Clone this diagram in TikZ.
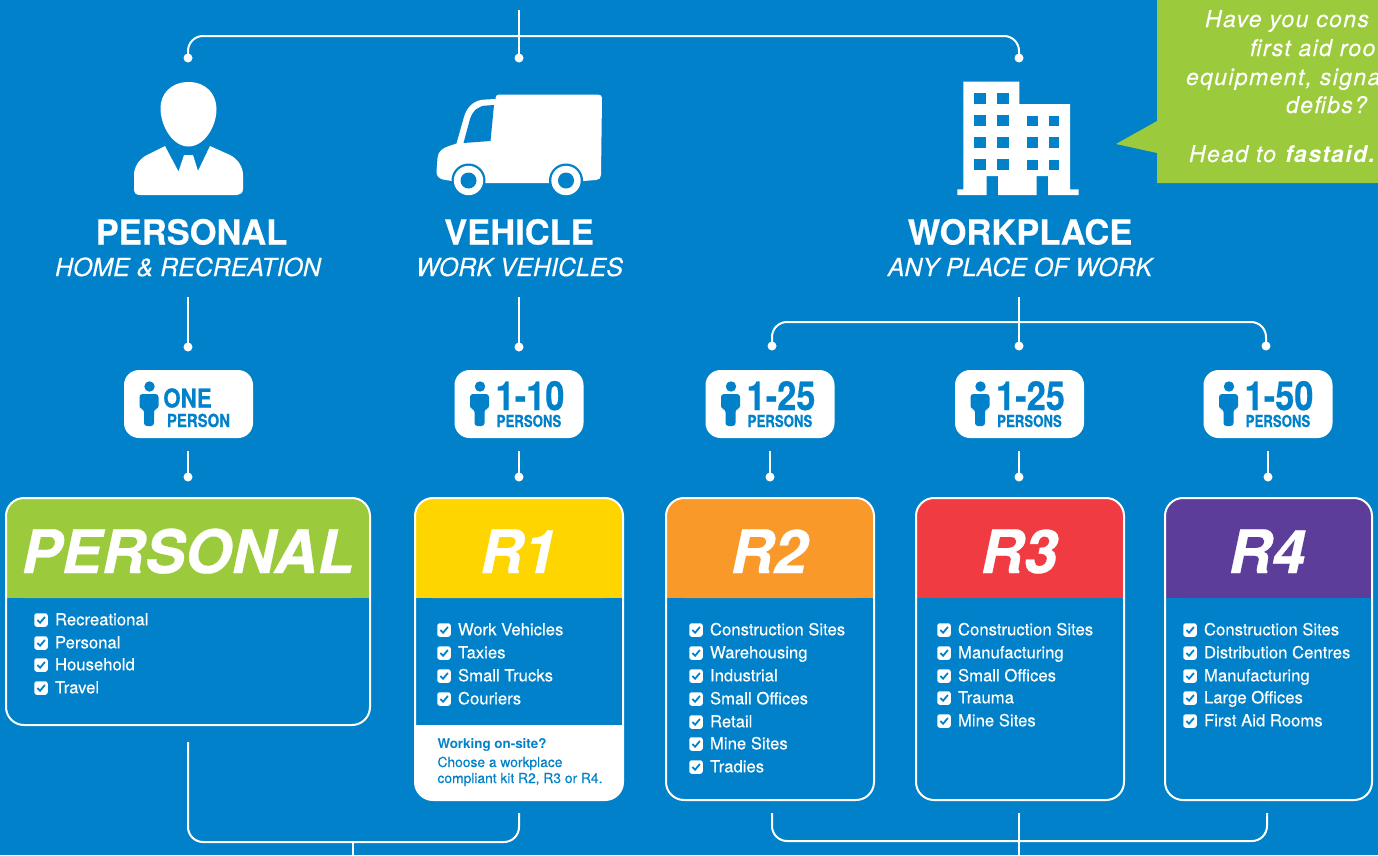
\documentclass[tikz,border=0pt]{standalone}
\usepackage{fontspec}
\usepackage{graphicx}
\setmainfont{TeX Gyre Heros}
\newfontfamily\med{TeX Gyre Heros}[FakeBold=0.25]
\newfontfamily\hvy{TeX Gyre Heros Bold}[FakeBold=0.5,ItalicFont=TeX Gyre Heros Bold Italic]
\newfontfamily\callf{TeX Gyre Heros}[LetterSpace=6,FakeBold=0.12]
\newfontfamily\callb{TeX Gyre Heros Bold}[LetterSpace=6,ItalicFont=TeX Gyre Heros Bold Italic]
\definecolor{bg}{HTML}{0081C9}
\definecolor{lime}{HTML}{9BCB3C}
\definecolor{yel}{HTML}{FFD500}
\definecolor{org}{HTML}{F9992A}
\definecolor{rd}{HTML}{F03B43}
\definecolor{pur}{HTML}{5C3D99}
\newcommand{\fs}[1]{\fontsize{#1}{#1}\selectfont}
\tikzset{
  wire/.style={draw=white,line width=2pt,rounded corners=15pt},
  dotend/.style={circle,fill=white,inner sep=0pt,minimum size=9pt},
  txt/.style={inner sep=0pt,outer sep=0pt,text=white},
  title/.style={txt,anchor=base,font=\hvy\fs{34.5}},
  subtitle/.style={txt,anchor=base,font=\med\itshape\fs{24.9}},
  cardtitle/.style={txt,anchor=base,font=\hvy\itshape\fs{60}},
  item/.style={txt,anchor=base west,font=\med\fs{16.7}},
  call/.style={txt,anchor=base west,font=\callf\itshape\fs{23}},
  foot/.style={txt,anchor=base west,text=bg,font=\med\fs{13.8}},
  badge/.style={rectangle,rounded corners=15pt,fill=white,minimum width=129pt,minimum height=68pt,inner sep=0pt},
  blab/.style={inner sep=0pt,outer sep=0pt,text=bg,anchor=base,font=\hvy},
  box/.style={rectangle,rounded corners=2.5pt,fill=white,minimum size=13.5pt,inner sep=0pt},
}
\newcommand{\chk}[4]{%
  \node[box] (#1b) at (#2,#3) {};
  \draw[bg,line width=1.8pt] ([shift={(-3.6pt,0pt)}]#1b.center) -- ([shift={(-0.9pt,-2.7pt)}]#1b.center) -- ([shift={(3.9pt,3pt)}]#1b.center);
  \node[item] (#1t) at ([shift={(14pt,-5.3pt)}]#1b.center) {#4};
}
% #1 name, #2 centre x, #3 big label, #4 big size, #5 big xscale, #6 small label, #7 small size, #8 small xscale, #9 big label x offset and baseline
\newcommand{\bdg}[9]{%
  \node[badge] (#1) at (#2,404) {};
  \begin{scope}[shift={(#1.center)}]
    \fill[bg] (-39,-17.5) circle (5.2pt);
    \fill[bg,rounded corners=3pt] (-49,-10) -- (-30,-10) -- (-30,5) -- (-34.5,5) -- (-34.5,22) -- (-44.5,22) -- (-44.5,5) -- (-49,5) -- cycle;
    \node[blab] (#1x) at (#9) {\fs{#4}\scalebox{#5}[1]{#3}};
    \node[blab] (#1y) at (10,23) {\fs{#7}\scalebox{#8}[1]{#6}};
  \end{scope}
}
\newcommand{\card}[4]{%
  \fill[#4,rounded corners=18pt] (#1,598) -- (#1,498) -- (#2,498) -- (#2,598) -- cycle;
  \fill[#4] (#1,580) rectangle (#2,598);
  \draw[white,line width=2pt,rounded corners=18pt] (#1,498) rectangle (#2,#3);
}
\begin{document}
\begin{tikzpicture}[x=1pt,y=-1pt]
\useasboundingbox (0,0) rectangle (1378,855);
\clip (0,0) rectangle (1378,855);
\fill[bg] (0,0) rectangle (1378,855);

% callout
\fill[lime] (1157,0) -- (1378,0) -- (1378,183) -- (1157,183) -- (1157,153) -- (1116,144) -- (1157,121) -- cycle;
\node[call] (c1) at (1205,27) {Have you cons};
\node[call] (c2) at (1250,56) {first aid roo};
\node[call] (c3) at (1186,85) {equipment, signa};
\node[call] (c4) at (1286,113) {defibs?};
\node[call] (c5) at (1189,162) {Head to\hspace{1.5pt} {\callb\itshape fastaid.}};

% top connectors
\coordinate (topin) at (519,10);
\node[dotend] (dP) at (188,58) {};
\node[dotend] (dV) at (519,58) {};
\node[dotend] (dW) at (1019,58) {};
\draw[wire] (dP.center) -- (188,36) -- (1019,36) -- (dW.center);
\draw[wire] (topin) -- (dV.center);

% person icon
\fill[white] (188.5,82) .. controls (171,82) and (160,94) .. (160.5,109) .. controls (161,127) and (173,146.5) .. (188.5,146.5) .. controls (204,146.5) and (216.5,127) .. (216.5,109) .. controls (216.5,94) and (206,82) .. (188.5,82) -- cycle;
\fill[white] (165,146) -- (178.5,171.5) -- (184,155) -- (193,155) -- (198,171) -- (210,146) -- (230,155) .. controls (238,159) and (243,167) .. (243,175) -- (243,189) .. controls (243,193) and (240,195) .. (237,195) -- (140,195) .. controls (136,195) and (134,193) .. (134,189) -- (134,175) .. controls (134,167) and (139,159) .. (147,155) -- cycle;

% van icon
\fill[white] (495.5,98) .. controls (496,95.5) and (497,94.5) .. (499,94.5) -- (598,94.5) .. controls (600.5,94.5) and (602,96) .. (602,98) -- (601,175) .. controls (601,178) and (599,180) .. (596,180) -- (583,181) -- (550,183) -- (485,183) -- (452,181) -- (443,179.5) .. controls (439,178.5) and (436.5,176) .. (436.5,172) -- (437.5,158) .. controls (438,151) and (443,148) .. (449,146) -- (456.5,143.5) -- (464,117) .. controls (467,106) and (475,99.5) .. (486,99.5) -- (495.5,99) -- cycle;
\fill[bg] (494,105) -- (490.5,141) -- (463.5,143) -- (470,119) .. controls (473,110) and (479,105.5) .. (487,105.5) -- cycle;
\foreach \wx in {468.5,566}{
  \fill[bg] (\wx,180.5) circle (17pt);
  \fill[white] (\wx,180.5) circle (14.7pt);
  \fill[bg] (\wx,180.5) circle (8pt);
}

% building icon
\fill[white] (963.3,81.7) -- (1019.3,81.7) -- (1019.3,104) -- (1070,104) -- (1070,189.3) -- (1078.7,189.3) -- (1078.7,195) -- (1048,195) -- (1048,176) -- (1036.7,176) -- (1036.7,195) -- (998,195) -- (998,176) -- (986.7,176) -- (986.7,195) -- (957.3,195) -- (957.3,189.3) -- (963.3,189.3) -- cycle;
\foreach \wy in {92.7,114.7,136.7,159}{
  \fill[bg] (974,\wy) rectangle +(11.7,11.3);
  \fill[bg] (997,\wy) rectangle +(11.7,11.3);
}
\foreach \wy in {115.7,137.3,160}{
  \fill[bg] (1027,\wy) rectangle +(10.7,10.4);
  \fill[bg] (1048.7,\wy) rectangle +(10.7,10.4);
}

% headings
\node[title] (t1) at (191.5,244.5) {PERSONAL};
\node[subtitle] (s1) at (188,276) {HOME \& RECREATION};
\node[title] (t2) at (519,244.5) {VEHICLE};
\node[subtitle] (s2) at (519.5,276) {WORK VEHICLES};
\node[title] (t3) at (1020,244.5) {WORKPLACE};
\node[subtitle] (s3) at (1020,276) {ANY PLACE OF WORK};

% second row connectors
\coordinate (p1) at (188,297);
\node[dotend] (p2) at (188,347) {};
\draw[wire] (p1) -- (p2.center);
\coordinate (v1) at (519,297);
\node[dotend] (v2) at (519,347) {};
\draw[wire] (v1) -- (v2.center);
\coordinate (w1) at (1019,297);
\node[dotend] (wa) at (772,346) {};
\node[dotend] (wb) at (1019,346) {};
\node[dotend] (wc) at (1266,346) {};
\draw[wire] (w1) -- (wb.center);
\draw[wire] (wa.center) -- (772,322) -- (1266,322) -- (wc.center);

% badges
\bdg{bA}{188.5}{ONE}{26}{.86}{PERSON}{18}{.83}{-1,3.5}
\bdg{bB}{519}{1-10}{40}{.86}{PERSONS}{16.5}{.8}{11,6}
\bdg{bC}{770}{1-25}{40}{.86}{PERSONS}{16.5}{.8}{11,6}
\bdg{bD}{1019.5}{1-25}{40}{.86}{PERSONS}{16.5}{.8}{11,6}
\bdg{bE}{1268}{1-50}{40}{.86}{PERSONS}{16.5}{.8}{11,6}

% badge to card connectors
\foreach \nm/\cx in {a/188,b/519,c/770,d/1019,e/1268}{
  \coordinate (u\nm) at (\cx,451);
  \node[dotend] (l\nm) at (\cx,477) {};
  \draw[wire] (u\nm) -- (l\nm.center);
}

% cards
\fill[white,rounded corners=18pt] (415,710) -- (623,710) -- (623,800) -- (415,800) -- cycle;
\fill[bg] (415,700) rectangle (623,725);
\card{6}{370}{725}{lime}
\card{415}{623}{800}{yel}
\card{666}{874}{800}{org}
\card{916}{1124}{800}{rd}
\card{1165}{1372}{800}{pur}
\node[cardtitle] (h1) at (188,573) {PERSONAL};
\node[cardtitle] (h2) at (518.5,573) {R1};
\node[cardtitle] (h3) at (769,573) {R2};
\node[cardtitle] (h4) at (1019,573) {R3};
\node[cardtitle] (h5) at (1267,573) {R4};

\chk{a1}{41}{620}{Recreational}
\chk{a2}{41}{643}{Personal}
\chk{a3}{41}{665}{Household}
\chk{a4}{41}{688}{Travel}

\chk{b1}{444}{630}{Work Vehicles}
\chk{b2}{444}{653}{Taxies}
\chk{b3}{444}{676}{Small Trucks}
\chk{b4}{444}{699}{Couriers}

\chk{c1}{696}{630}{Construction Sites}
\chk{c2}{696}{653}{Warehousing}
\chk{c3}{696}{676}{Industrial}
\chk{c4}{696}{699}{Small Offices}
\chk{c5}{696}{722}{Retail}
\chk{c6}{696}{744}{Mine Sites}
\chk{c7}{696}{767}{Tradies}

\chk{d1}{944}{630}{Construction Sites}
\chk{d2}{944}{653}{Manufacturing}
\chk{d3}{944}{676}{Small Offices}
\chk{d4}{944}{698}{Trauma}
\chk{d5}{944}{721}{Mine Sites}

\chk{e1}{1190}{630}{Construction Sites}
\chk{e2}{1190}{653}{Distribution Centres}
\chk{e3}{1190}{676}{Manufacturing}
\chk{e4}{1190}{698}{Large Offices}
\chk{e5}{1190}{721}{First Aid Rooms}

\node[foot,font=\bfseries\fs{13.4}] (f1) at (437.5,748) {Working on-site?};
\node[foot] (f2) at (437.5,767) {Choose a workplace};
\node[foot] (f3) at (437.5,783) {compliant kit R2, R3 or R4.};

% bottom brackets
\coordinate (x1) at (188,742);
\coordinate (x2) at (519,813);
\coordinate (x3) at (353,842);
\coordinate (x4) at (353,855);
\draw[wire] (x1) -- (188,842) -- (519,842) -- (x2);
\draw[wire] (x3) -- (x4);
\coordinate (y1) at (772,813);
\coordinate (y2) at (1267,813);
\coordinate (y3) at (1019,813);
\coordinate (y4) at (1019,855);
\draw[wire] (y1) -- (772,841) -- (1267,841) -- (y2);
\draw[wire] (y3) -- (y4);
\end{tikzpicture}
\end{document}
